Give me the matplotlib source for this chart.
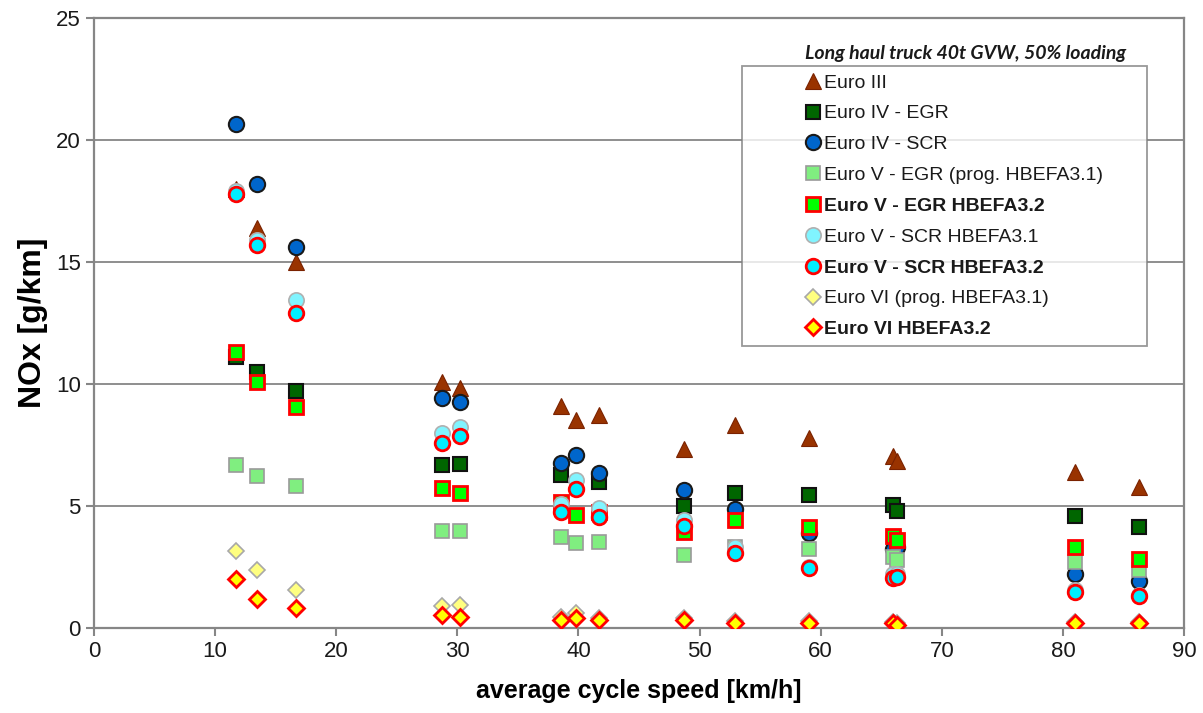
import numpy as np
import matplotlib
matplotlib.use("Agg")
import matplotlib.pyplot as plt

plt.rcParams["font.family"] = ["Liberation Sans", "DejaVu Sans"]

nan = np.nan

# average cycle speed of each driving cycle [km/h]
speed = [11.7, 13.5, 16.7, 28.7, 30.2, 38.6, 39.8, 41.7, 48.7, 52.9, 59.0, 66.0, 66.3, 81.0, 86.3]

# NOx [g/km] per emission standard
euro3 = [18.0, 16.4, 15.0, 10.1, 9.85, 9.1, 8.52, 8.73, 7.32, 8.32, 7.8, 7.05, 6.84, 6.41, 5.79]
euro4_egr = [11.1, 10.5, 9.7, 6.68, 6.72, 6.27, nan, 6.0, 5.0, 5.55, 5.45, 5.04, 4.8, 4.59, 4.13]
euro4_scr = [20.65, 18.2, 15.6, 9.42, 9.28, 6.75, 7.09, 6.34, 5.65, 4.86, 3.88, 3.22, 3.3, 2.21, 1.94]
euro5_egr_31 = [6.68, 6.23, 5.82, 3.98, 3.98, 3.74, 3.47, 3.54, 2.99, 3.33, 3.24, 2.92, 2.79, 2.72, 2.38]
euro5_egr_32 = [11.3, 10.1, 9.07, 5.75, 5.52, 5.18, 4.63, 4.75, 3.95, 4.43, 4.15, 3.77, 3.6, 3.33, 2.82]
euro5_scr_31 = [17.9, 15.9, 13.45, 8.0, 8.25, 5.1, 6.07, 4.9, 4.43, 3.3, 2.5, 2.2, 2.2, 1.55, 1.35]
euro5_scr_32 = [17.8, 15.7, 12.9, 7.6, 7.87, 4.77, 5.68, 4.54, 4.18, 3.09, 2.45, 2.04, 2.1, 1.49, 1.31]
euro6_31 = [3.15, 2.39, 1.56, 0.92, 0.93, 0.45, 0.6, 0.42, 0.4, 0.3, 0.3, 0.25, 0.2, 0.25, 0.25]
euro6_32 = [2.0, 1.19, 0.83, 0.52, 0.44, 0.33, 0.4, 0.33, 0.33, 0.22, 0.22, 0.19, 0.12, 0.22, 0.22]

labels = [
    "Euro III",
    "Euro IV - EGR",
    "Euro IV - SCR",
    "Euro V - EGR (prog. HBEFA3.1)",
    "Euro V - EGR HBEFA3.2",
    "Euro V - SCR HBEFA3.1",
    "Euro V - SCR HBEFA3.2",
    "Euro VI (prog. HBEFA3.1)",
    "Euro VI HBEFA3.2",
]
series = [euro3, euro4_egr, euro4_scr, euro5_egr_31, euro5_egr_32,
          euro5_scr_31, euro5_scr_32, euro6_31, euro6_32]
bold_labels = {"Euro V - EGR HBEFA3.2", "Euro V - SCR HBEFA3.2", "Euro VI HBEFA3.2"}

# marker, size, face, edge, edge width
styles = [
    ("^", 11, "#993300", "#7a2200", 0.8),
    ("s", 10, "#006600", "#111111", 1.5),
    ("o", 11, "#0066cc", "#1a1a1a", 1.5),
    ("s", 10, "#80ee80", "#9a9a9a", 1.2),
    ("s", 10, "#00ff00", "#ff0000", 2.0),
    ("o", 11, "#80f4ff", "#b0b0b0", 1.2),
    ("o", 10.5, "#00eeff", "#ff0000", 2.0),
    ("D", 8, "#ffff80", "#a8a8a8", 1.2),
    ("D", 8, "#ffff00", "#ff0000", 2.0),
]

fig = plt.figure(figsize=(12.03, 7.13), dpi=100)
ax = fig.add_axes([0.0781, 0.1192, 0.9061, 0.8556])

for vals, lab, (m, ms, fc, ec, ew) in zip(series, labels, styles):
    ax.plot(speed, vals, linestyle="none", marker=m, markersize=ms,
            markerfacecolor=fc, markeredgecolor=ec, markeredgewidth=ew,
            label=lab, zorder=3)

ax.set_xlim(0, 90)
ax.set_ylim(0, 25)
ax.set_xticks(np.arange(0, 91, 10))
ax.set_yticks(np.arange(0, 26, 5))
ax.tick_params(axis="both", labelsize=16, color="#868686", width=1.5,
               length=6, direction="out", labelcolor="#1a1a1a")
ax.yaxis.grid(True, color="#868686", linewidth=1.3)
ax.set_axisbelow(True)
for sp in ax.spines.values():
    sp.set_color("#868686")
    sp.set_linewidth(1.6)

ax.set_xlabel("average cycle speed [km/h]", fontsize=18, fontweight="bold", labelpad=12)
ax.set_ylabel("NOx [g/km]", fontsize=23, fontweight="bold", labelpad=6)

leg = ax.legend(loc="upper left", bbox_to_anchor=(0.5945, 0.469, 0.3715, 0.452),
                mode="expand", borderaxespad=0, fontsize=14, frameon=True,
                fancybox=False, edgecolor="#7f7f7f", labelspacing=0.68,
                handlelength=6.5, handletextpad=-2.7, borderpad=0.4, numpoints=1)
leg.get_frame().set_linewidth(1.3)
for t in leg.get_texts():
    t.set_color("#1a1a1a")
    if t.get_text() in bold_labels:
        t.set_fontweight("bold")

fig.text(805 / 1203, 1 - 53 / 713, "Long haul truck 40t GVW, 50% loading",
         fontsize=14, fontweight="bold", fontstyle="italic", family="Lato",
         ha="left", va="center", color="#1a1a1a")

fig.savefig("out.png", dpi=100)
